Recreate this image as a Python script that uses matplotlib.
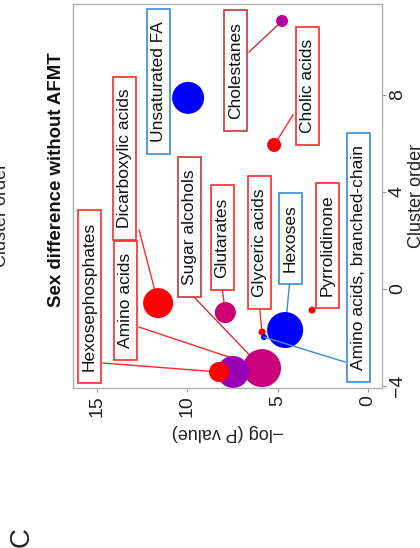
import matplotlib
matplotlib.use('Agg')
import matplotlib.pyplot as plt
from matplotlib.patches import Rectangle

plt.rcParams['font.family'] = ['Liberation Sans', 'DejaVu Sans']

# bubbles: -log(P), cluster order, size, colour
clusters = ['Unsaturated FA', 'Cholestanes', 'Cholic acids', 'Dicarboxylic acids',
            'Glutarates', 'Glyceric acids', 'Hexoses', 'Pyrrolidinone',
            'Sugar alcohols', 'Amino acids', 'Hexosephosphates',
            'Amino acids, branched-chain']
neglogp = [9.96, 4.76, 5.2, 11.62, 7.9, 5.87, 4.59, 3.1, 5.87, 7.47, 8.25, 5.76]
order = [7.88, 11.05, 5.94, -0.58, -0.97, -1.77, -1.69, -0.87, -3.26, -3.42, -3.42, -1.98]
bsize = [16, 6, 7, 15, 10.5, 3.5, 18, 3.5, 19, 16, 10, 3]
bcolor = ['#0000ff', '#b4009c', '#ff0000', '#ff0000', '#cc0070', '#ff0000',
          '#0000ff', '#ff0000', '#c8007c', '#9a00b8', '#ff0000', '#0000ff']

# label boxes: text, centre (x, y), edge colour, segment start, target bubble
labels = ['Hexosephosphates', 'Amino acids', 'Dicarboxylic acids', 'Unsaturated FA',
          'Sugar alcohols', 'Glutarates', 'Glyceric acids', 'Cholestanes',
          'Hexoses', 'Pyrrolidinone', 'Cholic acids', 'Amino acids, branched-chain']
lab_x = [15.41, 13.42, 13.48, 11.62, 9.88, 8.08, 6.03, 7.33, 4.29, 2.27, 3.38, 0.53]
lab_y = [-0.31, -0.49, 5.38, 8.54, 2.56, 2.12, 1.92, 9.01, 2.08, 1.79, 8.37, 1.30]
lab_ec = ['#ff2a2a', '#ff2a2a', '#ff2a2a', '#3a8ad6', '#c8343c', '#ff2a2a',
          '#ff2a2a', '#c8343c', '#3a8ad6', '#ff2a2a', '#ff2a2a', '#3a8ad6']
seg_x0 = [14.67, 12.67, 12.67, None, 9.85, 8.08, 6.03, 6.59, 4.32, None, 4.15, 1.27]
seg_y0 = [-3.05, -1.57, 2.43, None, -0.16, 0.08, -0.58, 9.77, 0.45, None, 7.18, -3.01]
seg_to = [10, 8, 3, None, 8, 4, 5, 1, 6, None, 2, 11]

fig = plt.figure(figsize=(4.2, 5.48), dpi=100)
ax = fig.add_axes([73/420, 1-388/548, 309/420, 384/548])

for i in range(len(labels)):
    if seg_to[i] is None:
        continue
    j = seg_to[i]
    z = 3 if i == 11 else 1
    ax.plot([seg_x0[i], neglogp[j]], [seg_y0[i], order[j]], color=lab_ec[i], lw=1.0, zorder=z)

ax.scatter(neglogp, order, s=[(1.44*r*2)**2/4 for r in bsize], c=bcolor, zorder=2, linewidths=0)

texts = []
for i in range(len(labels)):
    t = ax.text(lab_x[i], lab_y[i], labels[i], rotation=90, ha='center', va='center',
                fontsize=12.5, color='#111111', zorder=5)
    texts.append(t)

ax.set_xlim(16.33, -0.77)
ax.set_ylim(-4.08, 11.75)
ax.set_xticks([0, 5, 10, 15])
ax.set_xticklabels(['0', '5', '10', '15'], rotation=90, va='top', ha='center')
ax.yaxis.tick_right()
ax.set_yticks([-4, 0, 4, 8])
ax.set_yticklabels(['\u22124', '0', '4', '8'], rotation=90, va='center', ha='left')
ax.tick_params(labelsize=14, colors='#999999', labelcolor='#222222', length=3, pad=2)
for s in ax.spines.values():
    s.set_color('#b0b0b0')
    s.set_linewidth(1.0)

ax.set_xlabel('\u2013log (P value)', fontsize=13, rotation=180, va='center', color='#222222')
ax.xaxis.set_label_coords(0.5, -0.117)
ax.yaxis.set_label_position('right')
ax.set_ylabel('Cluster order', fontsize=13, rotation=90, va='center', color='#222222')
ax.yaxis.set_label_coords(1.113, 0.5)

fig.text(57/420, 1-180/548, 'Sex difference without AFMT', rotation=90, ha='center',
         va='center', fontsize=13.4, fontweight='bold', color='#111111')
fig.text(10/420, 1-215/548, 'Cluster order', rotation=90, ha='right', va='center',
         fontsize=13, color='#222222')
fig.text(22/420, 1-537/548, 'C', rotation=90, ha='center', va='center', fontsize=20,
         color='#222222')

# boxes around labels, sized from rendered text
fig.canvas.draw()
r = fig.canvas.get_renderer()
inv = ax.transData.inverted()
for i, t in enumerate(texts):
    bb = t.get_window_extent(r)
    (x0, y0), (x1, y1) = inv.transform([[bb.x0 - 4, bb.y0 - 12], [bb.x1 + 4, bb.y1 + 12]])
    ax.add_patch(Rectangle((x0, y0), x1 - x0, y1 - y0, facecolor='white',
                           edgecolor=lab_ec[i], lw=1.2, zorder=4))

fig.savefig('out.png', dpi=100)
